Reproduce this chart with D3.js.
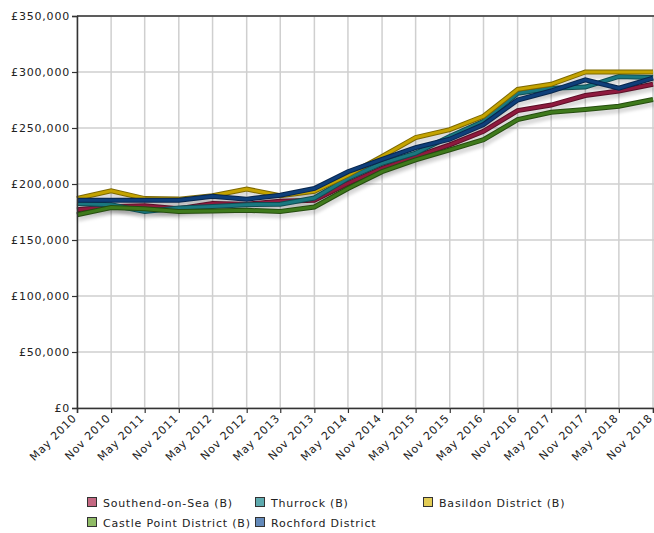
<!DOCTYPE html>
<html>
<head>
<meta charset="utf-8">
<script src="https://cdn.jsdelivr.net/npm/d3@7/dist/d3.min.js"></script>
<style>
  html, body { margin: 0; padding: 0; background: #fff; }
  svg { display: block; font-family: "DejaVu Sans", Verdana, sans-serif; }
</style>
</head>
<body>
<svg id="chart" width="654" height="533"></svg>
<script>
// Half-yearly periods (May / Nov)
const periods = ["May 2010","Nov 2010","May 2011","Nov 2011","May 2012","Nov 2012",
  "May 2013","Nov 2013","May 2014","Nov 2014","May 2015","Nov 2015",
  "May 2016","Nov 2016","May 2017","Nov 2017","May 2018","Nov 2018"];

// Average prices (£) per district
const southend    = [177000,180000,180500,178000,182500,182000,184500,185500,200500,214000,224500,235000,247000,265500,270500,279000,283000,289000];
const thurrock    = [182500,181500,175500,178500,180000,181500,182000,187500,205000,218500,227500,242500,256000,281000,285500,286500,296000,295000];
const basildon    = [187000,194000,187000,186500,189500,195500,189500,193500,208000,224500,241500,248500,260500,284500,289000,300000,300000,300000];
const castlePoint = [172500,179000,178000,175500,176000,176500,175500,179500,196000,211000,221500,230500,239500,257500,264000,266500,269500,275500];
const rochford    = [185500,185500,185500,185500,189000,186500,190000,196000,211000,222000,232500,240000,253000,275000,283000,293000,285500,294500];

const yTicks = [0,50000,100000,150000,200000,250000,300000,350000];

const seriesNames = ["Southend-on-Sea (B)","Thurrock (B)","Basildon District (B)","Castle Point District (B)","Rochford District"];
const seriesValues = [southend, thurrock, basildon, castlePoint, rochford];
const lineColors  = ["#8e1a3e","#1a7880","#c4a300","#3f7a1c","#0f3f7a"];
const edgeColors  = ["#5c0f27","#0f4d52","#7d6800","#264d10","#08264d"];
const swatchColors= ["#c46882","#5eaaae","#e2cc55","#8fbb66","#6389b9"];

const parseP = d3.timeParse("%b %Y");
const dates = periods.map(parseP);

const svg = d3.select("#chart");
const m = {left: 77, right: 653, top: 16, bottom: 408};
const FONT = "DejaVu Sans, Verdana, sans-serif";
const SPACING = 0.8;

const x = d3.scaleTime().domain([dates[0], dates[dates.length - 1]]).range([m.left, m.right]);
const y = d3.scaleLinear().domain([0, 350000]).range([m.bottom, m.top]);

const defs = svg.append("defs");
defs.append("filter").attr("id", "soft")
  .attr("x", "-5%").attr("y", "-20%").attr("width", "110%").attr("height", "140%")
  .append("feGaussianBlur").attr("stdDeviation", 1.6);

// Grid
const grid = svg.append("g");
grid.selectAll("line.v").data(dates).join("line")
  .attr("x1", d => x(d)).attr("x2", d => x(d))
  .attr("y1", m.top).attr("y2", m.bottom)
  .attr("stroke", "#cfcfcf").attr("stroke-width", 1.5);
grid.selectAll("line.h").data(yTicks).join("line")
  .attr("x1", m.left).attr("x2", 654)
  .attr("y1", d => y(d)).attr("y2", d => y(d))
  .attr("stroke", "#cfcfcf").attr("stroke-width", 1.5);

// Lines
const line = d3.line().x((d, i) => x(dates[i])).y(d => y(d));

const shadows = svg.append("g").attr("filter", "url(#soft)").attr("transform", "translate(1,4)");
seriesValues.forEach(vals => {
  shadows.append("path").attr("d", line(vals)).attr("fill", "none")
    .attr("stroke", "#000").attr("stroke-opacity", 0.14).attr("stroke-width", 6)
    .attr("stroke-linejoin", "round");
});

seriesValues.forEach((vals, k) => {
  const g = svg.append("g");
  g.append("path").attr("d", line(vals)).attr("fill", "none")
    .attr("stroke", edgeColors[k]).attr("stroke-width", 5).attr("stroke-linejoin", "miter");
  g.append("path").attr("d", line(vals)).attr("fill", "none")
    .attr("stroke", lineColors[k]).attr("stroke-width", 3).attr("stroke-linejoin", "miter");
});

// Frame: top border, left and bottom axes
svg.append("line").attr("x1", m.left).attr("x2", 654).attr("y1", m.top).attr("y2", m.top)
  .attr("stroke", "#333").attr("stroke-width", 1.5);

const yAxis = d3.axisLeft(y).tickValues(yTicks).tickSize(5).tickPadding(2)
  .tickFormat(d => "£" + d3.format(",")(d));
const gy = svg.append("g").attr("transform", `translate(${m.left},0)`).call(yAxis);
gy.select(".domain").attr("stroke", "#333").attr("stroke-width", 1.5);
gy.selectAll(".tick line").attr("stroke", "#333").attr("stroke-width", 1.2);
gy.selectAll(".tick text").attr("font-size", 11).attr("fill", "#222")
  .attr("font-family", FONT).attr("letter-spacing", SPACING);

const xAxis = d3.axisBottom(x).tickValues(dates).tickSize(5).tickFormat(d3.timeFormat("%b %Y"));
const gx = svg.append("g").attr("transform", `translate(0,${m.bottom})`).call(xAxis);
gx.select(".domain").attr("stroke", "#333").attr("stroke-width", 1.5);
gx.selectAll(".tick line").attr("stroke", "#333").attr("stroke-width", 1.2);
gx.selectAll(".tick text")
  .attr("font-size", 11).attr("fill", "#222")
  .attr("font-family", FONT).attr("letter-spacing", SPACING)
  .attr("text-anchor", "end")
  .attr("x", 0).attr("y", 0)
  .attr("dy", "0.35em")
  .attr("transform", "translate(-3,8) rotate(-45)");

// Legend
const legend = svg.append("g");
seriesNames.forEach((name, k) => {
  const col = k % 3, row = Math.floor(k / 3);
  const lx = 87 + col * 168, ly = 497 + row * 20;
  legend.append("rect").attr("x", lx + 0.5).attr("y", ly + 0.5).attr("width", 9).attr("height", 9)
    .attr("fill", swatchColors[k]).attr("stroke", "#333").attr("stroke-width", 1);
  legend.append("text").attr("x", lx + 16).attr("y", ly + 10)
    .attr("font-size", 11).attr("fill", "#222").attr("letter-spacing", SPACING).text(name);
});
</script>
</body>
</html>
